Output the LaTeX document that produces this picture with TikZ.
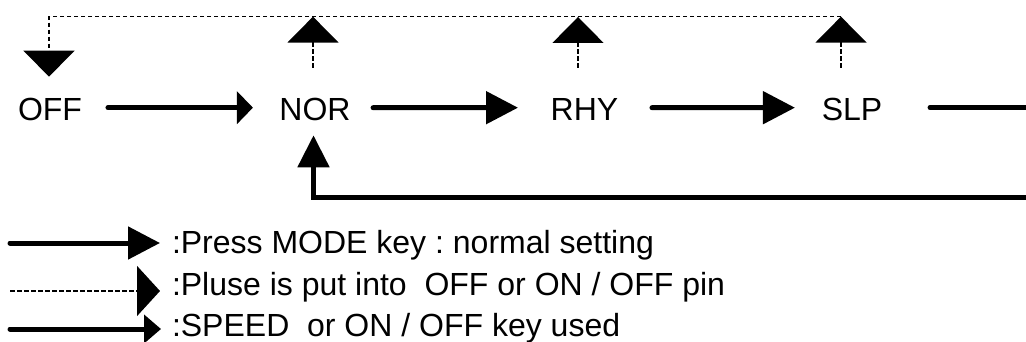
\documentclass[tikz,border=0pt]{standalone}
\usepackage{fontspec}
\setmainfont{Liberation Sans}
\usetikzlibrary{arrows.meta}
\frenchspacing
\begin{document}
\begin{tikzpicture}[x=1pt,y=-1pt,
  lbl/.style={inner sep=0pt, outer sep=0pt, font=\fontsize{32}{38}\selectfont},
  solidline/.style={line width=5pt, line cap=round},
  pulse/.style={line width=1.5pt, dash pattern=on 4.5pt off 2.5pt},
  bigtip/.style={-{Triangle[length=32pt,width=32pt]}},
  pulsetip/.style={-{Triangle[length=26pt,width=51pt]}},
]
\useasboundingbox (0,0) rectangle (1026,342);
% states
\node[lbl, anchor=base] (off) at (50,121) {OFF};
\node[lbl, anchor=base] (nor) at (315,121) {NOR};
\node[lbl, anchor=base] (rhy) at (584.5,121) {RHY};
\node[lbl, anchor=base] (slp) at (852,121) {SLP};
% mode key arrows
\draw[solidline, -{Triangle[length=16pt,width=32pt]}] ([xshift=26pt,yshift=2.3pt]off.east) -- ([xshift=-26.5pt,yshift=2.3pt]nor.west);
\draw[solidline, bigtip] ([xshift=22.5pt,yshift=2.3pt]nor.east) -- ([xshift=-32.7pt,yshift=2.3pt]rhy.west);
\draw[solidline, bigtip] ([xshift=33.7pt,yshift=2.3pt]rhy.east) -- ([xshift=-26.8pt,yshift=2.3pt]slp.west);
\draw[solidline, line join=miter, -{Triangle[length=32pt,width=31pt]}] ([xshift=47.8pt,yshift=2.3pt]slp.east) -- ++(150,0) -- ++(0,90) -| ([xshift=-1.5pt,yshift=-14pt]nor.south);
% pulse arrows
\foreach \n/\dx in {nor/-2, rhy/-6.5, slp/-11}
  \draw[pulse, pulsetip] ([xshift=\dx pt,yshift=31pt]\n.north) -- ++(0,-51);
\draw[pulse, pulsetip] ([xshift=-11pt,yshift=82pt]slp.north) -| ([xshift=-1pt,yshift=22pt]off.north);
% legend
\coordinate (l1s) at (10,243); \coordinate (l1e) at (160,243);
\coordinate (l2s) at (10,291); \coordinate (l2e) at (160,291);
\coordinate (l3s) at (10,329); \coordinate (l3e) at (161,329);
\draw[solidline, -{Triangle[length=32pt,width=32pt]}] (l1s) -- (l1e);
\draw[pulse, -{Triangle[length=23pt,width=50pt]}] (l2s) -- (l2e);
\draw[solidline, -{Triangle[length=17pt,width=28pt]}] (l3s) -- (l3e);
\node[lbl, anchor=base west] (t1) at (172,253) {:Press MODE key : normal setting};
\node[lbl, anchor=base west] (t2) at (172,295) {:Pluse is put into\ \ OFF or ON / OFF pin};
\node[lbl, anchor=base west] (t3) at (172,336) {:SPEED\ \ or ON / OFF key used};
\end{tikzpicture}
\end{document}
